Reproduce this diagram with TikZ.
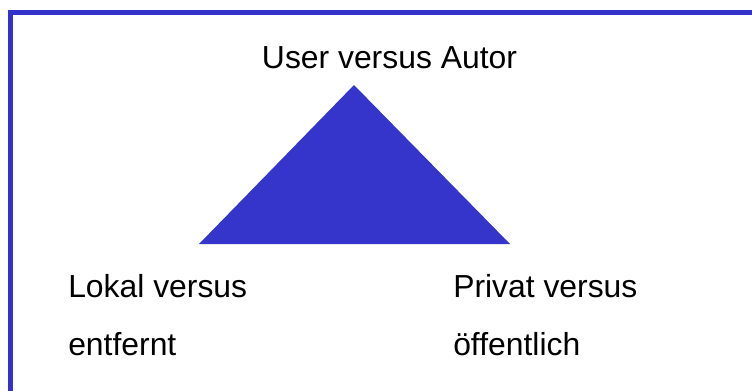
\documentclass[tikz,border=0pt]{standalone}
\usepackage{fontspec}
\setmainfont{Liberation Sans}
\definecolor{bluefill}{HTML}{3535CC}
\definecolor{frameblue}{HTML}{3333CC}
\tikzset{lbl/.style={anchor=base west, inner sep=0pt, font=\fontsize{23.9pt}{28pt}\selectfont}}
\begin{document}
\begin{tikzpicture}[x=0.75pt,y=-0.75pt]
\useasboundingbox (0,0) rectangle (752,390);
\clip (0,0) rectangle (752,390);
\fill[white] (0,0) rectangle (752,390);
\draw[frameblue, line width=3.75pt] (10.5,12.5) rectangle (800,450);
\coordinate (apex) at (354,85);
\coordinate (bl) at (199,244);
\coordinate (br) at (510,244);
\fill[bluefill] (apex) -- (br) -- (bl) -- cycle;
\node[lbl, anchor=base] (top) at (389.5,68) {User versus Autor};
\node[lbl] (l1) at (68,297) {Lokal versus};
\node[lbl] (l2) at (68,355) {entfernt};
\node[lbl] (r1) at (453,297) {Privat versus};
\node[lbl] (r2) at (453,355) {öffentlich};
\end{tikzpicture}
\end{document}
